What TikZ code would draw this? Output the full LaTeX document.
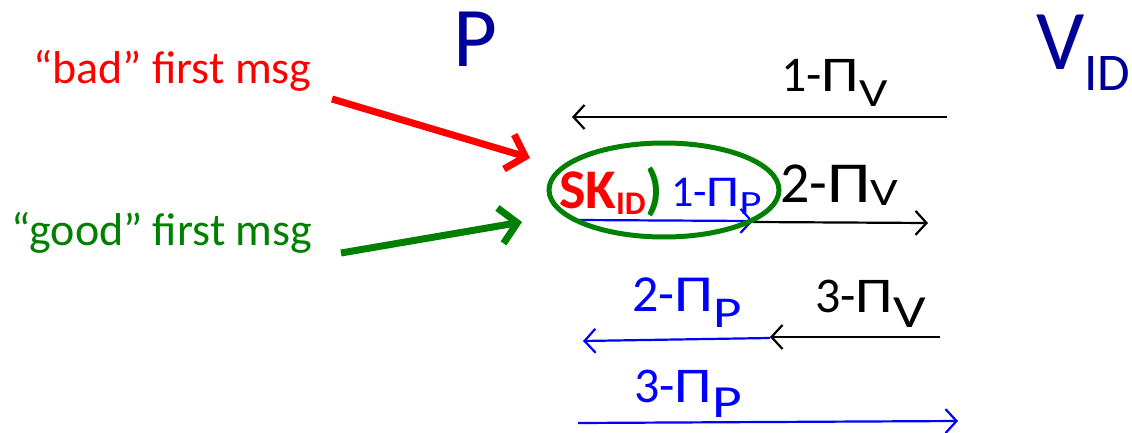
\documentclass[tikz,border=0pt]{standalone}
\usepackage{fontspec}
\setmainfont{Carlito}[Numbers=Lining]
\usetikzlibrary{arrows.meta}
\definecolor{navy}{HTML}{000099}
\definecolor{pblue}{HTML}{0000FF}
\definecolor{gbad}{HTML}{FF0000}
\definecolor{ggood}{HTML}{008000}
\tikzset{
  lbl/.style={anchor=base west, inner sep=0pt, outer sep=0pt},
  msg/.style={line width=2.2pt, -{Straight Barb[length=11pt,width=24pt,line width=2.2pt]}},
  hint/.style={line width=7pt, -{Straight Barb[length=17pt,width=36pt,line width=7pt]}},
}
\newcommand{\fs}[1]{\fontsize{#1}{#1}\selectfont}
\newcommand{\PIw}{\scalebox{1.2}[1]{Π}}
% \msglbl{size}{digit}{subsize}{lower}{sub}
\newcommand{\msglbl}[5]{{\fs{#1}#2-\PIw\raisebox{-#4pt}{\fs{#3}\scalebox{1.25}[1]{#5}}}}
\begin{document}
\begin{tikzpicture}[x=1pt,y=-1pt]
\useasboundingbox (0,0) rectangle (1132,433);
% parties
\node[lbl, text=navy] (P) at (453,67) {\fs{85}P};
\node[lbl, text=navy] (V) at (1036,70) {\fs{85}V\raisebox{-21pt}{\fs{53}ID}};
% labels
\node[lbl] (l1v) at (781,92) {\msglbl{50}{1}{40}{15}{V}};
\node[lbl] (sk) at (559,208) {\fs{56}\bfseries\textcolor{gbad}{SK\raisebox{-6pt}{\fs{33}ID}}\textcolor{ggood}{)}};
\node[lbl, text=pblue] (l1p) at (671,206) {\msglbl{44}{1}{34}{8}{P}};
\node[lbl] (l2v) at (780,202) {\msglbl{58}{2}{39}{3}{V}};
\node[lbl, text=pblue] (l2p) at (632,311) {\msglbl{52}{2}{44}{16}{P}};
\node[lbl] (l3v) at (815,312) {\msglbl{50}{3}{46}{15}{V}};
\node[lbl, text=pblue] (l3p) at (634,402) {\msglbl{50}{3}{46}{15}{P}};
\node[lbl, text=gbad] (bad) at (33,84) {\fs{46}“bad” first msg};
\node[lbl, text=ggood] (good) at (12,245) {\fs{46}“good” first msg};
% coordinates
\coordinate (a1s) at (947,117); \coordinate (a1e) at (572,117);
\coordinate (b1s) at (578,220); \coordinate (b1e) at (753,221);
\coordinate (a2s) at (753,222); \coordinate (a2e) at (928,223);
\coordinate (a3s) at (940,337); \coordinate (a3e) at (770,337);
\coordinate (b2s) at (770,338); \coordinate (b2e) at (583,341);
\coordinate (b3s) at (578,423); \coordinate (b3e) at (958,421);
\coordinate (rs) at (332,99); \coordinate (re) at (530,158);
\coordinate (gs) at (341,253); \coordinate (ge) at (522,222);
\coordinate (ec) at (664,190);
% messages
\draw[msg] (a1s) -- (a1e);
\draw[msg, pblue] (b1s) -- (b1e);
\draw[msg] (a2s) -- (a2e);
\draw[msg] (a3s) -- (a3e);
\draw[msg, pblue] (b2s) -- (b2e);
\draw[msg, pblue] (b3s) -- (b3e);
% ellipse
\draw[ggood, line width=5pt] (ec) ellipse [x radius=115, y radius=47];
% hint arrows
\draw[hint, gbad] (rs) -- (re);
\draw[hint, ggood] (gs) -- (ge);
\end{tikzpicture}
\end{document}
